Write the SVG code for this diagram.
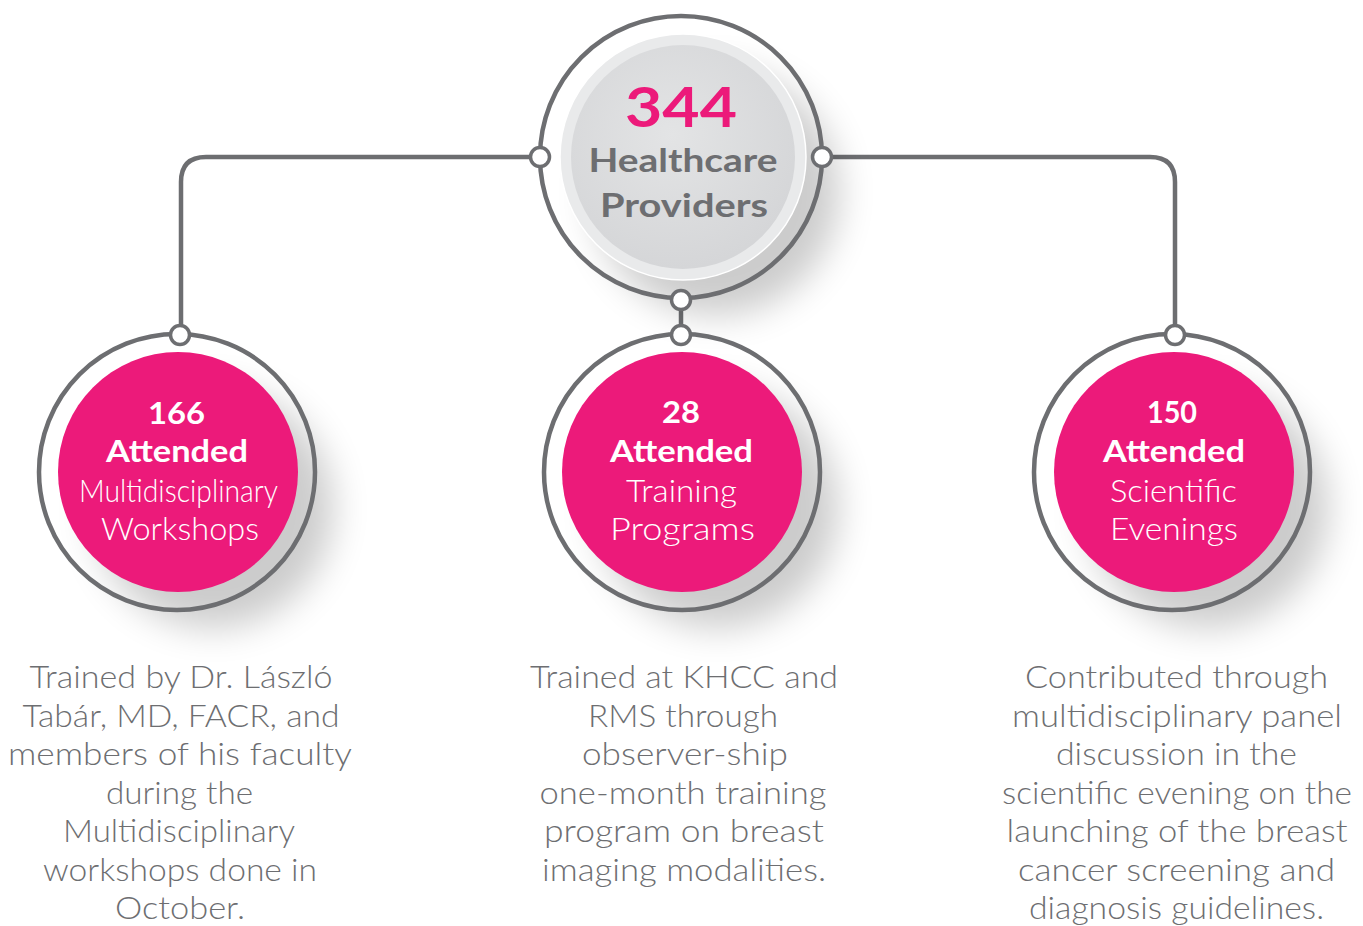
<svg xmlns="http://www.w3.org/2000/svg" width="1363" height="926" viewBox="0 0 1363 926">
<defs>
<filter id="sh" x="-60%" y="-60%" width="220%" height="220%"><feGaussianBlur stdDeviation="18"/></filter>
<radialGradient id="gg" cx="0.45" cy="0.4" r="0.6"><stop offset="0" stop-color="#e3e4e5"/><stop offset="1" stop-color="#d5d6d8"/></radialGradient>
<style>
.ring{fill:none;stroke:#6d6e71;stroke-width:4.5}
.dot{fill:#fff;stroke:#6d6e71;stroke-width:3.5}
.ln{fill:none;stroke:#6d6e71;stroke-width:4.5}
.pink{fill:#ec1a7a}
.shadow{fill:#000;opacity:0.2}
text{font-family:Lato,"Liberation Sans",sans-serif;text-anchor:middle}
.tb{font-weight:700;fill:#fff;font-size:31px}
.tl{font-weight:300;fill:#fff;font-size:32px}
.desc{font-weight:300;fill:#6d6e71;font-size:32px}
</style>
</defs>
<rect width="1363" height="926" fill="#fff"/>
<g id="connectors">
<path class="ln" d="M531,157 H206 Q181,157 181,182 V326"/>
<path class="ln" d="M832,157 H1150 Q1175,157 1175,182 V326"/>
<path class="ln" d="M681,300 V335"/>
</g>
<g id="top">
<circle class="shadow" cx="716" cy="192" r="123" filter="url(#sh)"/>
<circle cx="683" cy="157" r="123" fill="#e9eaeb" stroke="#fff" stroke-width="1.5"/>
<circle cx="683" cy="157" r="112" fill="url(#gg)"/>
<circle class="ring" cx="681" cy="157" r="141"/>
<text x="681" y="127" font-weight="700" font-size="56" fill="#ec1a7a" textLength="112" lengthAdjust="spacingAndGlyphs">344</text>
<text x="683" y="172" font-weight="700" font-size="32" fill="#6d6e71" textLength="189" lengthAdjust="spacingAndGlyphs">Healthcare</text>
<text x="684" y="217" font-weight="700" font-size="32" fill="#6d6e71" textLength="168" lengthAdjust="spacingAndGlyphs">Providers</text>
<circle class="dot" cx="540" cy="157" r="9.5"/>
<circle class="dot" cx="822" cy="157" r="9.5"/>
<circle class="dot" cx="681" cy="300" r="9.5"/>
</g>
<g id="left">
<circle class="shadow" cx="213" cy="508" r="120" filter="url(#sh)"/>
<circle class="ring" cx="177" cy="472" r="138"/>
<circle class="pink" cx="178" cy="472" r="120"/>
<text class="tb" x="176.5" y="424" textLength="57" lengthAdjust="spacingAndGlyphs">166</text>
<text class="tb" x="177" y="462" textLength="142" lengthAdjust="spacingAndGlyphs">Attended</text>
<text class="tl" x="178.5" y="502" textLength="199" lengthAdjust="spacingAndGlyphs">Multidisciplinary</text>
<text class="tl" x="180" y="540" textLength="158" lengthAdjust="spacingAndGlyphs">Workshops</text>
<circle class="dot" cx="180" cy="335" r="9.5"/>
<text class="desc" x="181" y="688" textLength="303" lengthAdjust="spacingAndGlyphs">Trained by Dr. László</text>
<text class="desc" x="181" y="727" textLength="317" lengthAdjust="spacingAndGlyphs">Tabár, MD, FACR, and</text>
<text class="desc" x="180" y="765" textLength="344" lengthAdjust="spacingAndGlyphs">members of his faculty</text>
<text class="desc" x="179.5" y="804" textLength="147" lengthAdjust="spacingAndGlyphs">during the</text>
<text class="desc" x="179" y="842" textLength="232" lengthAdjust="spacingAndGlyphs">Multidisciplinary</text>
<text class="desc" x="180" y="881" textLength="274" lengthAdjust="spacingAndGlyphs">workshops done in</text>
<text class="desc" x="180" y="919" textLength="130" lengthAdjust="spacingAndGlyphs">October.</text>
</g>
<g id="middle">
<circle class="shadow" cx="718" cy="508" r="120" filter="url(#sh)"/>
<circle class="ring" cx="682" cy="472" r="138"/>
<circle class="pink" cx="682" cy="472" r="120"/>
<text class="tb" x="681" y="423" textLength="38" lengthAdjust="spacingAndGlyphs">28</text>
<text class="tb" x="681.5" y="462" textLength="143" lengthAdjust="spacingAndGlyphs">Attended</text>
<text class="tl" x="681.5" y="502" textLength="111" lengthAdjust="spacingAndGlyphs">Training</text>
<text class="tl" x="682.5" y="540" textLength="145" lengthAdjust="spacingAndGlyphs">Programs</text>
<circle class="dot" cx="681" cy="335" r="9.5"/>
<text class="desc" x="684" y="688" textLength="308" lengthAdjust="spacingAndGlyphs">Trained at KHCC and</text>
<text class="desc" x="683" y="727" textLength="190" lengthAdjust="spacingAndGlyphs">RMS through</text>
<text class="desc" x="685" y="765" textLength="206" lengthAdjust="spacingAndGlyphs">observer-ship</text>
<text class="desc" x="683" y="804" textLength="287" lengthAdjust="spacingAndGlyphs">one-month training</text>
<text class="desc" x="684" y="842" textLength="280" lengthAdjust="spacingAndGlyphs">program on breast</text>
<text class="desc" x="684" y="881" textLength="284" lengthAdjust="spacingAndGlyphs">imaging modalities.</text>
</g>
<g id="right">
<circle class="shadow" cx="1208" cy="508" r="120" filter="url(#sh)"/>
<circle class="ring" cx="1172" cy="472" r="138"/>
<circle class="pink" cx="1174" cy="472" r="120"/>
<text class="tb" x="1172" y="423" textLength="50" lengthAdjust="spacingAndGlyphs">150</text>
<text class="tb" x="1174" y="462" textLength="142" lengthAdjust="spacingAndGlyphs">Attended</text>
<text class="tl" x="1173.5" y="502" textLength="127" lengthAdjust="spacingAndGlyphs">Scientific</text>
<text class="tl" x="1174" y="540" textLength="128" lengthAdjust="spacingAndGlyphs">Evenings</text>
<circle class="dot" cx="1175" cy="335" r="9.5"/>
<text class="desc" x="1176.5" y="688" textLength="303" lengthAdjust="spacingAndGlyphs">Contributed through</text>
<text class="desc" x="1177" y="727" textLength="330" lengthAdjust="spacingAndGlyphs">multidisciplinary panel</text>
<text class="desc" x="1176.5" y="765" textLength="241" lengthAdjust="spacingAndGlyphs">discussion in the</text>
<text class="desc" x="1177" y="804" textLength="350" lengthAdjust="spacingAndGlyphs">scientific evening on the</text>
<text class="desc" x="1177" y="842" textLength="341" lengthAdjust="spacingAndGlyphs">launching of the breast</text>
<text class="desc" x="1176.5" y="881" textLength="317" lengthAdjust="spacingAndGlyphs">cancer screening and</text>
<text class="desc" x="1176.5" y="919" textLength="295" lengthAdjust="spacingAndGlyphs">diagnosis guidelines.</text>
</g>
</svg>
